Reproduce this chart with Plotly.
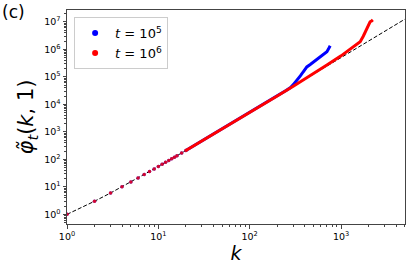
import plotly.graph_objects as go

# reference curve values (k(k+1)/2)
ref_k = [1, 1.5, 2, 3, 5, 7, 10, 20, 50, 100, 300, 1000, 3000, 5000]
ref_v = [1, 1.875, 3, 6, 15, 28, 55, 210, 1275, 5050, 45150, 500500, 4501500, 12502500]

# t = 1e5 (blue)
blue_k = [1, 2, 3, 4, 5, 6, 7, 8, 9, 10, 11, 12, 13, 14, 15, 16, 18, 20,
          25, 30, 40, 50, 70, 100, 150, 200, 250, 280, 300, 330, 360, 384, 400,
          422, 460, 500, 550, 590, 640, 700, 725, 745, 760]
blue_v = [1, 3, 6, 10, 15, 21, 28, 36, 45, 55, 66, 78, 91, 105, 120, 136, 171, 210,
          325, 465, 820, 1275, 2485, 5050, 11400, 20400, 32000, 41000, 52000, 75000, 110000, 150000, 185000,
          230000, 280000, 350000, 440000, 540000, 650000, 820000, 1000000, 1150000, 1350000]

# t = 1e6 (red)
red_k = [1, 2, 3, 4, 5, 6, 7, 8, 9, 10, 11, 12, 13, 14, 15, 16, 18, 20,
         25, 30, 40, 50, 70, 100, 150, 200, 300, 400, 500, 700, 1000, 1260, 1450,
         1620, 1750, 1840, 1950, 2080, 2160, 2230]
red_v = [1, 3, 6, 10, 15, 21, 28, 36, 45, 55, 66, 78, 91, 105, 120, 136, 171, 210,
         325, 465, 820, 1275, 2485, 5050, 11325, 20100, 45500, 82000, 132000, 270000, 580000, 1000000, 1450000,
         1900000, 3000000, 4400000, 7000000, 10000000, 10800000, 11800000]

N_DOTS = 18  # first points drawn as separate dots

x_ticks = [1, 10, 100, 1000]
x_text = ["10<sup>0</sup>", "10<sup>1</sup>", "10<sup>2</sup>", "10<sup>3</sup>"]
y_ticks = [10 ** i for i in range(8)]
y_text = ["10<sup>%d</sup>" % i for i in range(8)]
x_minor = [m * 10 ** d for d in range(4) for m in range(2, 10)]
y_minor = [m * 10 ** d for d in range(-1, 8) for m in range(2, 10)]

fig = go.Figure()

fig.add_trace(go.Scatter(x=ref_k, y=ref_v, mode="lines",
                         line=dict(color="black", width=1, dash="4px,2px"),
                         showlegend=False, hoverinfo="skip"))

for k, v, col, name in [(blue_k, blue_v, "#0000ff", "<i>t</i> = 10<sup>5</sup>"),
                        (red_k, red_v, "#ff0000", "<i>t</i> = 10<sup>6</sup>")]:
    fig.add_trace(go.Scatter(x=k[N_DOTS - 1:], y=v[N_DOTS - 1:], mode="lines",
                             line=dict(color=col, width=3),
                             showlegend=False))
    fig.add_trace(go.Scatter(x=k[:N_DOTS], y=v[:N_DOTS], mode="markers",
                             marker=dict(color=col, size=3.5, opacity=0.8),
                             showlegend=False))
    # legend entry
    fig.add_trace(go.Scatter(x=[None], y=[None], mode="markers",
                             marker=dict(color=col, size=6), name=name))

axis_common = dict(
    type="log", showline=True, mirror=True, linecolor="#444", linewidth=1,
    ticks="outside", ticklen=3.5, tickwidth=1, tickcolor="#444",
    showgrid=False, zeroline=False, automargin=False,
    tickfont=dict(family="DejaVu Sans", size=9.5, color="black"),
)

fig.update_xaxes(**axis_common, range=[0, 3.70], tickvals=x_ticks, ticktext=x_text,
                 minor=dict(ticks="outside", ticklen=2, tickwidth=0.8, tickcolor="#444",
                            showgrid=False, tickmode="array", tickvals=x_minor),
                 title=dict(text="<i>k</i>", font=dict(family="DejaVu Sans", size=19, color="black"),
                            standoff=0))
fig.update_yaxes(**axis_common, range=[-0.35, 7.43], tickvals=y_ticks, ticktext=y_text,
                 minor=dict(ticks="outside", ticklen=2, tickwidth=0.8, tickcolor="#444",
                            showgrid=False, tickmode="array", tickvals=y_minor),
                 title=dict(text="<i>φ̃</i><sub><i>t</i></sub>(<i>k</i>, 1)",
                            font=dict(family="DejaVu Sans", size=21, color="black"),
                            standoff=4))

fig.update_layout(
    width=415, height=277,
    margin=dict(l=67, r=10, t=10, b=53),
    plot_bgcolor="white", paper_bgcolor="white",
    legend=dict(x=0.021, y=0.967, xanchor="left", yanchor="top",
                bgcolor="rgba(255,255,255,0.8)", bordercolor="#cccccc", borderwidth=1,
                font=dict(family="DejaVu Sans", size=13, color="black"),
                itemsizing="trace", tracegroupgap=2),
    annotations=[dict(text="(c)", x=0, y=1, xref="paper", yref="paper",
                      xanchor="left", yanchor="top", showarrow=False,
                      xshift=-67, yshift=10,
                      font=dict(family="DejaVu Sans", size=17, color="black"))],
)

fig.write_html("out.html",
               config={"displayModeBar": False},
               post_script="document.body.style.margin='0px';document.body.style.padding='0px';")
